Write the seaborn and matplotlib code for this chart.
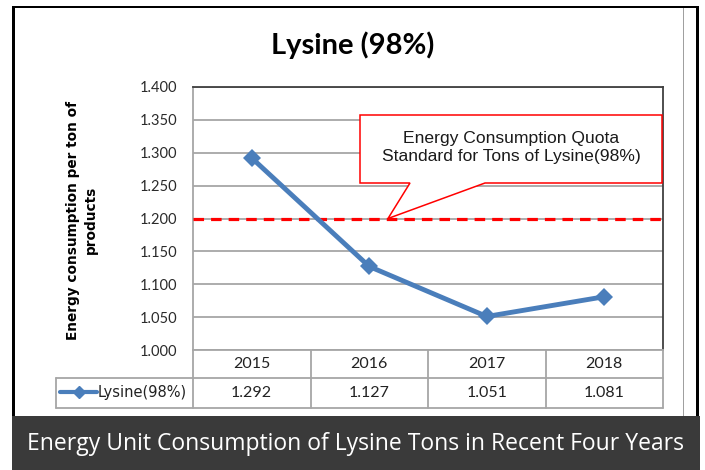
import matplotlib
matplotlib.use("Agg")
import matplotlib.pyplot as plt
import matplotlib.transforms as mtransforms
import seaborn as sns
import pandas as pd
from matplotlib.patches import Polygon, Rectangle
from matplotlib.lines import Line2D

# ---------------- data ----------------
years = ["2015", "2016", "2017", "2018"]
values = [1.292, 1.127, 1.051, 1.081]
series_name = "Lysine(98%)"
quota = 1.200
yticks = [1.000, 1.050, 1.100, 1.150, 1.200, 1.250, 1.300, 1.350, 1.400]
title = "Lysine (98%)"
ylabel = "Energy consumption per ton of\nproducts"
quota_label = "Energy Consumption Quota\nStandard for Tons of Lysine(98%)"
caption = "Energy Unit Consumption of Lysine Tons in Recent Four Years"

sns.set_theme(style="white")
plt.rcParams['font.family'] = ['Lato', 'DejaVu Sans']

W, H = 705, 470
fig = plt.figure(figsize=(7.05, 4.7), dpi=100)
fig.patch.set_facecolor("white")


def fx(px):
    return px / W


def fy(py):
    return 1 - py / H


def fline(xs, ys, **kw):
    fig.add_artist(Line2D([fx(x) for x in xs], [fy(y) for y in ys],
                          transform=fig.transFigure, **kw))


def frect(x0, y0, x1, y1, color):
    fig.add_artist(Rectangle((fx(x0), fy(y1)), (x1 - x0) / W, (y1 - y0) / H,
                             transform=fig.transFigure, facecolor=color,
                             edgecolor="none"))


# outer frame
frect(12, 6, 699, 7.5, "black")
frect(12, 6, 14.5, 418, "black")
frect(695.5, 6, 699, 418, "black")
frect(682.5, 8, 684, 417, "#a0a0a0")
frect(12, 416, 700, 470, "#3a3a3a")
fig.text(fx(356), fy(444), caption, ha="center", va="center", color="white",
         fontsize=16.5, family=["Open Sans", "DejaVu Sans"])

# title
fig.text(fx(353), fy(45), title, ha="center", va="center", fontsize=21,
         fontweight="bold", family=["Lato", "DejaVu Sans"], color="black")

# y label
fig.text(fx(82), fy(220), ylabel, rotation=90, ha="center", va="center",
         fontsize=9.8, fontweight="bold", family=["DejaVu Sans"],
         color="black", linespacing=1.3, multialignment="center")

# axes
ax = fig.add_axes([fx(193), fy(350), fx(663) - fx(193), (350 - 87) / H])
df = pd.DataFrame({"year": range(len(years)), "value": values})
sns.lineplot(data=df, x="year", y="value", ax=ax, color="#4a7ebb", lw=3.5,
             marker="D", markersize=9, markeredgecolor="#4a7ebb",
             markeredgewidth=0, zorder=5)
ax.axhline(quota, color="#ff0000", lw=2.3, dashes=(3.3, 2.2), zorder=4)

ax.set_xlim(-0.5, len(years) - 0.5)
ax.set_ylim(yticks[0], yticks[-1])
ax.set_yticks(yticks)
ax.set_yticklabels([f"{t:.3f}" for t in yticks])
ax.set_xticks([])
ax.set_xlabel("")
ax.set_ylabel("")
ax.yaxis.grid(True, color="#a6a6a6", lw=1.3)
ax.set_axisbelow(True)
ax.tick_params(axis="y", length=0, pad=11.5, labelsize=10.5, labelcolor="#2a2a2a")
for lab in ax.get_yticklabels():
    lab.set_family(["Lato", "DejaVu Sans"])
for s in ["left", "bottom"]:
    ax.spines[s].set_color("#a6a6a6")
    ax.spines[s].set_linewidth(1.3)
for s in ["top", "right"]:
    ax.spines[s].set_color("#404040")
    ax.spines[s].set_linewidth(1.3)

# callout annotation (axes fraction)
bx0, bx1 = (360 - 193) / 470, (662 - 193) / 470
by0, by1 = (350 - 183) / 263, (350 - 115) / 263
tip_x = (388 - 193) / 470
tip_y = (quota - yticks[0]) / (yticks[-1] - yticks[0])
poly = [(bx0, by1), (bx1, by1), (bx1, by0), ((485 - 193) / 470, by0),
        (tip_x, tip_y), ((410 - 193) / 470, by0), (bx0, by0)]
ax.add_patch(Polygon(poly, closed=True, transform=ax.transAxes,
                     facecolor="white", edgecolor="#ff0000", lw=1.1, zorder=6))
ax.text((bx0 + bx1) / 2, (by0 + by1) / 2 + 0.005, quota_label,
        transform=ax.transAxes, ha="center", va="center", fontsize=12.6,
        family=["Liberation Sans", "DejaVu Sans"], color="#1a1a1a",
        linespacing=1.2, zorder=7)

# data table under the axes
grey = "#a6a6a6"
col_edges = [193 + i * (663 - 193) / len(years) for i in range(len(years) + 1)]
for x in col_edges:
    fline([x, x], [350, 408], color=grey, lw=1.3)
fline([56, 56], [378, 408], color=grey, lw=1.3)
fline([56, 663], [378, 378], color=grey, lw=1.3)
fline([56, 663], [408, 408], color=grey, lw=1.3)

btrans = mtransforms.blended_transform_factory(ax.transData, fig.transFigure)
for i, (yr, v) in enumerate(zip(years, values)):
    ax.text(i, fy(364), yr, transform=btrans, ha="center", va="center",
            fontsize=11.5, family=["Lato", "DejaVu Sans"], color="#222222")
    ax.text(i, fy(393), f"{v:.3f}", transform=btrans, ha="center", va="center",
            fontsize=11.5, family=["Lato", "DejaVu Sans"], color="#222222")

# legend key in table
fline([60, 97], [392, 392], color="#4a7ebb", lw=3.0)
fline([78.5], [392], color="#4a7ebb", marker="D", markersize=6, lw=0)
fig.text(fx(98), fy(393), series_name, ha="left", va="center", fontsize=10.5,
         family=["DejaVu Sans"], color="#222222")

fig.savefig("out.png", dpi=100)
